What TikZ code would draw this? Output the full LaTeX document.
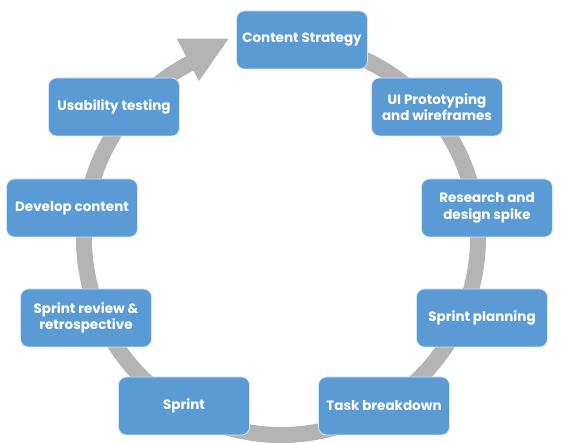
\documentclass[tikz,border=0pt]{standalone}
\usepackage{fontspec}
\setmainfont{Poppins}
\usetikzlibrary{calc}
\definecolor{boxblue}{HTML}{5B9BD5}
\definecolor{ringgray}{HTML}{B4B4B4}
\begin{document}
\begin{tikzpicture}[x=1pt,y=1pt,
  stage/.style={rectangle, rounded corners=8pt, fill=boxblue, draw=white!75!boxblue, line width=0.8pt,
    minimum width=131pt, minimum height=58pt, text=white, align=center,
    font=\fontsize{13.5}{16.5}\selectfont\bfseries, inner sep=2pt}]
\useasboundingbox (0,0) rectangle (561,443);
\coordinate (c) at (281,205);
% ring with arrow
\draw[ringgray, line width=16pt] ($(c)+(80:197)$) arc[start angle=80, end angle=-242.4, radius=197];
\fill[ringgray] ($(c)+(117.6:225)$) -- ($(c)+(117.6:201)+(27.6:46)$) -- ($(c)+(117.6:177)$) -- cycle;
% stages
\node[stage] (cs) at (302,403) {Content Strategy};
\node[stage] (ui) at (437,336) {UI Prototyping\\and wireframes};
\node[stage] (rd) at (487,235) {Research and\\design spike};
\node[stage] (sp) at (482,125) {Sprint planning};
\node[stage] (tb) at (384,37) {Task breakdown};
\node[stage] (s) at (184,37) {Sprint};
\node[stage] (sr) at (86,125) {Sprint review \&\\retrospective};
\node[stage] (dc) at (72,235) {Develop content};
\node[stage] (ut) at (114,336) {Usability testing};
\end{tikzpicture}
\end{document}
